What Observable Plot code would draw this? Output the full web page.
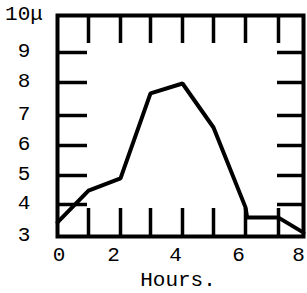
<!DOCTYPE html>
<html>
<head>
<meta charset="utf-8">
<script src="https://cdn.jsdelivr.net/npm/d3@7"></script>
<script src="https://cdn.jsdelivr.net/npm/@observablehq/plot@0.6"></script>
<style>
  html, body { margin: 0; padding: 0; background: #fff; }
</style>
</head>
<body>
<div id="chart"></div>
<script>
// Data
const hours = [0, 1, 2, 3, 4, 5, 6, 6.05, 7, 8];
const sizes = [3.44, 4.48, 4.9, 7.67, 7.97, 6.6, 3.91, 3.59, 3.59, 3.12];

// Axis ticks
const xTickMarks = [1, 2, 3, 4, 5, 6, 7];
const yTickMarks = [4, 5, 6, 7, 8, 9];
const xLabelsStart = [0];
const xLabelsMid = [2, 4, 6];
const xLabelsEnd = [8];
const yLabels = [3, 4, 5, 6, 7, 8, 9, 10];
const yUnitLabel = "10μ";
const xTitle = "Hours.";

// Hand-drawn (piecewise) scale positions
const xDomain = [0, 1, 2, 3, 4, 5, 6, 7, 8];
const xRange = [57, 88, 120, 150, 182, 213, 245, 278, 303];
const yDomain = [3, 4, 5, 6, 7, 8, 9, 10];
const yRange = [236, 204, 175, 145, 115, 82, 52, 15];

const data = hours.map((h, i) => ({h, s: sizes[i]}));

const chart = Plot.plot({
  width: 307,
  height: 293,
  marginTop: 15,
  marginBottom: 57,
  marginLeft: 57,
  marginRight: 4,
  style: {fontFamily: "Liberation Mono, monospace", fontSize: "21px", background: "#fff", color: "#000"},
  x: {type: "linear", domain: xDomain, range: xRange},
  y: {type: "linear", domain: yDomain, range: yRange},
  marks: [
    // inward ticks
    Plot.ruleX(xTickMarks, {x: d => d, insetBottom: 193, stroke: "#000", strokeWidth: 3.5}),
    Plot.ruleX(xTickMarks, {x: d => d, insetTop: 193, stroke: "#000", strokeWidth: 3.5}),
    Plot.ruleY(yTickMarks, {y: d => d, insetRight: 216, stroke: "#000", strokeWidth: 3.5}),
    Plot.ruleY(yTickMarks, {y: d => d, insetLeft: 220, stroke: "#000", strokeWidth: 3.5}),
    Plot.frame({stroke: "#000", strokeWidth: 4}),
    Plot.line(data, {x: "h", y: "s", stroke: "#000", strokeWidth: 4, strokeLinejoin: "miter", curve: "linear"}),
    // tick labels
    Plot.axisY(yLabels, {anchor: "left", tickSize: 0, tickPadding: 33.5, textAnchor: "middle", dy: -2,
      tickFormat: d => d === 10 ? yUnitLabel : String(d), label: null, fill: "#000"}),
    Plot.axisX(xLabelsStart, {anchor: "bottom", tickSize: 0, tickPadding: 10, dx: 1.5, label: null, fill: "#000"}),
    Plot.axisX(xLabelsMid, {anchor: "bottom", tickSize: 0, tickPadding: 10, dx: -7, label: null, fill: "#000"}),
    Plot.axisX(xLabelsEnd, {anchor: "bottom", tickSize: 0, tickPadding: 10, dx: -5, label: null, fill: "#000"}),
    Plot.text([xTitle], {text: d => d, frameAnchor: "bottom", lineAnchor: "middle", dy: 43, dx: -2.5, fill: "#000"})
  ]
});
document.getElementById("chart").appendChild(chart);
</script>
</body>
</html>
